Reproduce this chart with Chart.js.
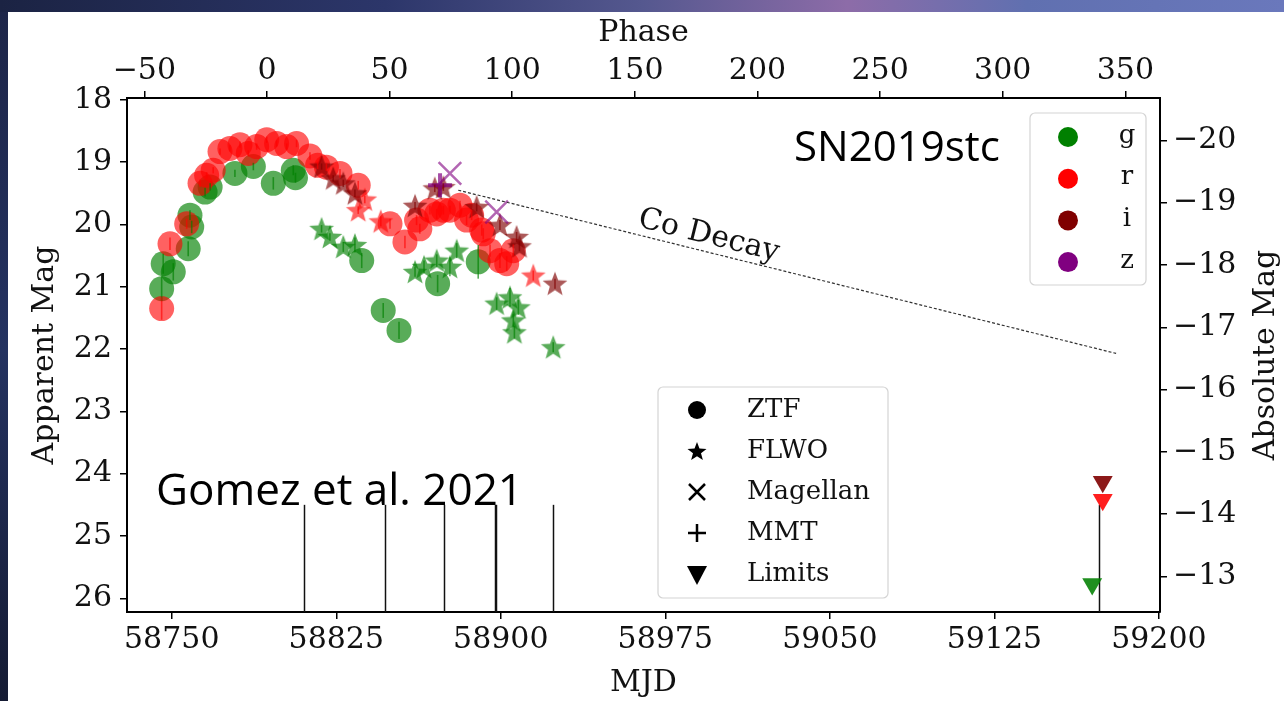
<!DOCTYPE html>
<html>
<head>
<meta charset="utf-8">
<title>SN2019stc light curve</title>
<script src="https://cdn.jsdelivr.net/npm/chart.js@4.4.1/dist/chart.umd.min.js"></script>
<style>
  html, body { margin: 0; padding: 0; background: #1c2442; }
  canvas { display: block; }
</style>
</head>
<body>
<canvas id="lc" width="1284" height="701" style="width:1284px;height:701px"></canvas>
<script>
// ---- axis ticks -------------------------------------------------------
const mjdTicks   = [58750, 58825, 58900, 58975, 59050, 59125, 59200];
const phaseTicks = [-50, 0, 50, 100, 150, 200, 250, 300, 350];
const appTicks   = [18, 19, 20, 21, 22, 23, 24, 25, 26];
const absTicks   = [-20, -19, -18, -17, -16, -15, -14, -13];

// ---- photometry (MJD, apparent mag, error) ----------------------------
const gZtfMjd = [58745.4, 58746.1, 58750.7, 58757.5, 58758.3, 58759.1, 58765.2, 58767.5, 58778.8,
                 58787.2, 58796.3, 58805.4, 58806.4, 58836.6, 58846.4, 58853.6, 58871.2, 58889.7];
const gZtfMag = [21.03, 20.63, 20.76, 20.39, 19.85, 20.04, 19.48, 19.40, 19.18,
                 19.07, 19.34, 19.13, 19.25, 20.58, 21.38, 21.70, 20.95, 20.60];
const gZtfErr = [0.20, 0.16, 0.14, 0.12, 0.08, 0.10, 0.07, 0.06, 0.06,
                 0.06, 0.10, 0.08, 0.08, 0.12, 0.12, 0.14, 0.14, 0.27];

const rZtfMjd = [58745.4, 58749.2, 58756.8, 58762.9, 58765.9, 58768.9, 58772.0, 58776.5, 58781.1,
                 58784.9, 58788.7, 58793.3, 58797.8, 58802.4, 58806.9, 58813.0, 58816.5, 58820.5,
                 58826.7, 58835.0, 58849.5, 58856.3, 58861.6, 58863.1, 58867.7, 58870.8, 58873.8,
                 58876.8, 58881.4, 58884.4, 58886.7, 58891.3, 58892.0, 58895.1, 58899.6, 58902.7,
                 58905.7];
const rZtfMag = [21.35, 20.31, 19.99, 19.34, 19.21, 19.13, 18.83, 18.78, 18.72,
                 18.86, 18.75, 18.64, 18.70, 18.75, 18.70, 18.90, 19.05, 19.08,
                 19.18, 19.37, 19.99, 20.28, 19.93, 20.07, 19.77, 19.83, 19.77,
                 19.77, 19.69, 19.93, 19.85, 20.09, 20.15, 20.42, 20.58, 20.63,
                 20.42];
const rZtfErr = [0.18, 0.10, 0.08, 0.06, 0.05, 0.05, 0.05, 0.05, 0.05,
                 0.05, 0.05, 0.05, 0.05, 0.05, 0.06, 0.06, 0.06, 0.06,
                 0.07, 0.07, 0.08, 0.10, 0.08, 0.08, 0.07, 0.08, 0.07,
                 0.07, 0.07, 0.08, 0.08, 0.09, 0.09, 0.10, 0.12, 0.12,
                 0.10];

const gFlwoMjd = [58818.3, 58822.1, 58828.2, 58833.5, 58860.9, 58865.0, 58870.8, 58876.8,
                  58879.9, 58898.1, 58904.2, 58908.0, 58905.7, 58906.2, 58923.9];
const gFlwoMag = [20.07, 20.20, 20.36, 20.33, 20.76, 20.68, 20.58, 20.68,
                  20.42, 21.27, 21.17, 21.33, 21.54, 21.73, 21.97];
const gFlwoErr = [0.06, 0.06, 0.08, 0.12, 0.08, 0.10, 0.10, 0.15,
                  0.12, 0.10, 0.15, 0.12, 0.10, 0.10, 0.08];

const rFlwoMjd = [58835.0, 58838.0, 58845.3, 58914.8];
const rFlwoMag = [19.77, 19.60, 19.95, 20.82];
const rFlwoErr = [0.06, 0.06, 0.08, 0.08];

const iFlwoMjd = [58818.3, 58823.6, 58828.2, 58833.5, 58860.9, 58869.9, 58873.8,
                  58889.0, 58899.6, 58907.2, 58908.5, 58924.7];
const iFlwoMag = [19.07, 19.26, 19.34, 19.50, 19.70, 19.42, 19.40,
                  19.72, 20.01, 20.20, 20.35, 20.95];
const iFlwoErr = [0.05, 0.05, 0.06, 0.06, 0.06, 0.06, 0.06,
                  0.07, 0.08, 0.08, 0.08, 0.08];

const zMagellanMjd = [58876.8, 58898.1];
const zMagellanMag = [19.18, 19.80];

const zMmtMjd = [58872.3];
const zMmtMag = [19.37];

const gLimitMjd = [59169.6];
const gLimitMag = [25.77];
const rLimitMjd = [59174.4];
const rLimitMag = [24.42];
const iLimitMjd = [59174.4];
const iLimitMag = [24.13];

// spectroscopy epochs, drawn as ticks rising from the bottom axis
const spectraMjd = [58810.2, 58847.1, 58874.2, 58897.3, 58898.0, 58924.0, 59172.5];
const spectraTopMag = 24.5;

// radioactive 56Co decay slope
const cobaltMjd = [58880.6, 59180.5];
const cobaltMag = [19.45, 22.07];

const filterNames    = ['g', 'r', 'i', 'z'];
const telescopeNames = ['ZTF', 'FLWO', 'Magellan', 'MMT', 'Limits'];

// ---- conversions ------------------------------------------------------
const PEAK_MJD   = 58793.4;
const ONE_PLUS_Z = 1.118;
const DIST_MOD   = 38.65;
const MJD_MIN = 58729.6, MJD_MAX = 59200.5;
const MAG_TOP = 17.97, MAG_BOTTOM = 26.22;
const toPhase = mjd => (mjd - PEAK_MJD) / ONE_PLUS_Z;

const SERIF = "'DejaVu Serif', serif";
const SANS  = "'Open Sans', 'Noto Sans', sans-serif";

const GREEN  = 'rgba(0,128,0,0.65)';
const RED    = 'rgba(255,0,0,0.62)';
const MAROON = 'rgba(128,0,0,0.65)';
const PURPLE = 'rgba(128,0,128,0.6)';

const minus = v => (v < 0 ? '\u2212' + Math.abs(v) : String(v));
const pts = (xs, ys) => xs.map((x, i) => ({ x, y: ys[i] }));

function traceStar(g, cx, cy, R) {
    const r = R * 0.42;
    g.beginPath();
    for (let k = 0; k < 10; k++) {
        const a = -Math.PI / 2 + k * Math.PI / 5;
        const d = k % 2 ? r : R;
        g.lineTo(cx + d * Math.cos(a), cy + d * Math.sin(a));
    }
    g.closePath();
}

function starImage(fill, R) {
    const size = Math.ceil(R * 2 + 2);
    const c = document.createElement('canvas');
    c.width = size; c.height = size;
    const g = c.getContext('2d');
    traceStar(g, size / 2, size / 2 + R * 0.08, R);
    g.fillStyle = fill;
    g.fill();
    return c;
}

function circles(xs, ys, errs, fill) {
    return { data: pts(xs, ys), errs, errColor: fill, pointStyle: 'circle',
             pointRadius: 12.5, backgroundColor: fill, borderWidth: 0 };
}
function stars(xs, ys, errs, fill) {
    return { data: pts(xs, ys), errs, errColor: fill, pointStyle: starImage(fill, 13),
             pointRadius: 13, backgroundColor: fill, borderWidth: 0 };
}
function limits(xs, ys, fill) {
    return { data: pts(xs, ys), pointStyle: 'triangle', pointRotation: 180,
             pointRadius: 11.5, backgroundColor: fill, borderWidth: 0 };
}

const layers = [
    circles(gZtfMjd, gZtfMag, gZtfErr, GREEN),
    stars(gFlwoMjd, gFlwoMag, gFlwoErr, GREEN),
    circles(rZtfMjd, rZtfMag, rZtfErr, RED),
    stars(rFlwoMjd, rFlwoMag, rFlwoErr, RED),
    stars(iFlwoMjd, iFlwoMag, iFlwoErr, MAROON),
    { data: pts(zMagellanMjd, zMagellanMag), pointStyle: 'crossRot', pointRadius: 16,
      borderColor: PURPLE, borderWidth: 2.5 },
    { data: pts(zMmtMjd, zMmtMag), pointStyle: 'cross', pointRadius: 12,
      borderColor: 'rgba(128,0,128,0.7)', borderWidth: 4 },
    limits(gLimitMjd, gLimitMag, 'rgba(0,128,0,0.88)'),
    limits(rLimitMjd, rLimitMag, 'rgba(255,0,0,0.88)'),
    limits(iLimitMjd, iLimitMag, 'rgba(128,0,0,0.9)')
];

const datasets = layers.map((d, i) => Object.assign({
    type: 'scatter', xAxisID: 'x', yAxisID: 'y', order: layers.length - i + 1
}, d));

datasets.push({
    type: 'line', xAxisID: 'x', yAxisID: 'y', order: 0,
    data: pts(cobaltMjd, cobaltMag),
    borderColor: '#333', borderWidth: 1.2, borderDash: [3, 2],
    pointRadius: 0, fill: false, tension: 0
});

// ---- plugins ----------------------------------------------------------
const backdrop = {
    id: 'backdrop',
    beforeDraw(chart) {
        const { ctx, width, height } = chart;
        ctx.save();
        const top = ctx.createLinearGradient(0, 0, width, 0);
        top.addColorStop(0.00, '#1b2343');
        top.addColorStop(0.30, '#2c366a');
        top.addColorStop(0.50, '#55588f');
        top.addColorStop(0.66, '#8d6ca8');
        top.addColorStop(0.80, '#6070b0');
        top.addColorStop(1.00, '#6a78bc');
        ctx.fillStyle = top;
        ctx.fillRect(0, 0, width, height);
        const side = ctx.createLinearGradient(0, 0, 0, height);
        side.addColorStop(0.0, '#1d2548');
        side.addColorStop(0.5, '#243260');
        side.addColorStop(1.0, '#151b33');
        ctx.fillStyle = side;
        ctx.fillRect(0, 12, 8, height - 12);
        ctx.fillStyle = '#ffffff';
        ctx.fillRect(8, 12, width - 8, height - 12);
        ctx.restore();
    }
};

function legendBox(ctx, x, y, w, h) {
    const r = 5;
    ctx.beginPath();
    ctx.moveTo(x + r, y);
    ctx.arcTo(x + w, y, x + w, y + h, r);
    ctx.arcTo(x + w, y + h, x, y + h, r);
    ctx.arcTo(x, y + h, x, y, r);
    ctx.arcTo(x, y, x + w, y, r);
    ctx.closePath();
    ctx.fillStyle = 'rgba(255,255,255,0.8)';
    ctx.fill();
    ctx.strokeStyle = '#d4d4d4';
    ctx.lineWidth = 1.2;
    ctx.stroke();
}

function legendMarker(ctx, kind, x, y) {
    ctx.fillStyle = '#000';
    ctx.strokeStyle = '#000';
    ctx.lineWidth = 2.5;
    ctx.beginPath();
    if (kind === 0) {
        ctx.arc(x, y, 9, 0, Math.PI * 2); ctx.fill();
    } else if (kind === 1) {
        traceStar(ctx, x, y + 1, 10); ctx.fill();
    } else if (kind === 2) {
        ctx.moveTo(x - 8, y - 8); ctx.lineTo(x + 8, y + 8);
        ctx.moveTo(x + 8, y - 8); ctx.lineTo(x - 8, y + 8); ctx.stroke();
    } else if (kind === 3) {
        ctx.moveTo(x - 9, y); ctx.lineTo(x + 9, y);
        ctx.moveTo(x, y - 9); ctx.lineTo(x, y + 9); ctx.stroke();
    } else {
        ctx.moveTo(x - 10, y - 8); ctx.lineTo(x + 10, y - 8); ctx.lineTo(x, y + 11);
        ctx.closePath(); ctx.fill();
    }
}

const overlay = {
    id: 'overlay',
    beforeDatasetsDraw(chart) {
        const { ctx, chartArea: a, scales: { x, y } } = chart;
        ctx.save();
        ctx.strokeStyle = '#111';
        ctx.lineWidth = 1.5;
        const yTop = y.getPixelForValue(spectraTopMag);
        spectraMjd.forEach(m => {
            const px = Math.round(x.getPixelForValue(m)) + 0.5;
            ctx.beginPath();
            ctx.moveTo(px, yTop);
            ctx.lineTo(px, a.bottom);
            ctx.stroke();
        });
        ctx.restore();
    },
    afterDatasetsDraw(chart) {
        const { ctx, scales: { x, y } } = chart;
        ctx.save();
        ctx.lineWidth = 1.6;
        chart.data.datasets.forEach(ds => {
            if (!ds.errs) return;
            ctx.strokeStyle = ds.errColor;
            ds.data.forEach((p, i) => {
                const px = x.getPixelForValue(p.x);
                ctx.beginPath();
                ctx.moveTo(px, y.getPixelForValue(p.y - ds.errs[i]));
                ctx.lineTo(px, y.getPixelForValue(p.y + ds.errs[i]));
                ctx.stroke();
            });
        });
        ctx.restore();
    },
    afterDraw(chart) {
        const { ctx, chartArea: a, scales: { x, y } } = chart;
        ctx.save();

        // decay label, laid along the dashed line
        const x0 = x.getPixelForValue(cobaltMjd[0]), y0 = y.getPixelForValue(cobaltMag[0]);
        const x1 = x.getPixelForValue(cobaltMjd[1]), y1 = y.getPixelForValue(cobaltMag[1]);
        const ang = Math.atan2(y1 - y0, x1 - x0);
        const t = 0.375;
        ctx.translate(x0 + (x1 - x0) * t, y0 + (y1 - y0) * t);
        ctx.rotate(ang);
        ctx.font = `30px ${SERIF}`;
        ctx.fillStyle = '#111';
        ctx.textAlign = 'center';
        ctx.textBaseline = 'alphabetic';
        ctx.fillText('Co Decay', 0, -8);
        ctx.setTransform(1, 0, 0, 1, 0, 0);

        // annotations
        ctx.fillStyle = '#000';
        ctx.textAlign = 'left';
        ctx.font = `42px ${SANS}`;
        ctx.fillText('SN2019stc', 794, 161);
        ctx.font = `44px ${SANS}`;
        ctx.fillText('Gomez et al. 2021', 156, 505);

        // filter legend
        const fColors = ['#008000', '#ff0000', '#800000', '#800080'];
        legendBox(ctx, 1030, 113, 116, 172);
        ctx.font = `26px ${SERIF}`;
        ctx.textBaseline = 'middle';
        filterNames.forEach((name, i) => {
            const ry = 137 + i * 41.7;
            ctx.beginPath();
            ctx.arc(1068, ry, 10, 0, Math.PI * 2);
            ctx.fillStyle = fColors[i];
            ctx.fill();
            ctx.fillStyle = '#111';
            ctx.textAlign = 'center';
            ctx.fillText(name, 1127, ry - 1);
        });

        // instrument legend
        legendBox(ctx, 658, 387, 230, 211);
        telescopeNames.forEach((name, i) => {
            const ry = 410 + i * 41;
            legendMarker(ctx, i, 697, ry);
            ctx.fillStyle = '#111';
            ctx.textAlign = 'left';
            ctx.fillText(name, 747, ry);
        });

        // right-hand axis title, reading upwards
        ctx.translate(1266, (a.top + a.bottom) / 2);
        ctx.rotate(-Math.PI / 2);
        ctx.font = `30px ${SERIF}`;
        ctx.textAlign = 'center';
        ctx.textBaseline = 'middle';
        ctx.fillStyle = '#111';
        ctx.fillText('Absolute Mag', 0, 0);
        ctx.restore();
    }
};

// ---- chart ------------------------------------------------------------
const tickFont  = { family: SERIF, size: 30 };
const titleFont = { family: SERIF, size: 30 };

function axisGrid() {
    return { display: true, drawOnChartArea: false, drawTicks: true,
             tickLength: 7, lineWidth: 1.5, tickColor: '#000' };
}
const axisBorder = { display: true, color: '#000', width: 2 };
const setTicks = list => scale => { scale.ticks = list.map(v => ({ value: v })); };

new Chart(document.getElementById('lc'), {
    type: 'scatter',
    data: { datasets },
    options: {
        responsive: false,
        animation: false,
        devicePixelRatio: 1,
        layout: { padding: 0 },
        plugins: { legend: { display: false }, tooltip: { enabled: false } },
        scales: {
            x: {
                type: 'linear', position: 'bottom', bounds: 'data',
                min: MJD_MIN, max: MJD_MAX,
                afterBuildTicks: setTicks(mjdTicks),
                afterFit: s => { s.height = 89; },
                ticks: { font: tickFont, color: '#111', padding: 3, maxRotation: 0,
                         autoSkip: false, callback: v => String(v) },
                grid: axisGrid(), border: axisBorder,
                title: { display: true, text: 'MJD', font: titleFont, color: '#111',
                         padding: { top: 0, bottom: 0 } }
            },
            x2: {
                type: 'linear', position: 'top', bounds: 'data',
                min: toPhase(MJD_MIN), max: toPhase(MJD_MAX),
                afterBuildTicks: setTicks(phaseTicks),
                afterFit: s => { s.height = 98; },
                ticks: { font: tickFont, color: '#111', padding: 2, maxRotation: 0,
                         autoSkip: false, callback: minus },
                grid: axisGrid(), border: axisBorder,
                title: { display: true, text: 'Phase', font: titleFont, color: '#111',
                         padding: { top: 15, bottom: 0 } }
            },
            y: {
                type: 'linear', position: 'left', reverse: true, bounds: 'data',
                min: MAG_TOP, max: MAG_BOTTOM,
                afterBuildTicks: setTicks(appTicks),
                afterFit: s => { s.width = 127; },
                ticks: { font: tickFont, color: '#111', padding: 8, autoSkip: false,
                         callback: v => String(v) },
                grid: axisGrid(), border: axisBorder,
                title: { display: true, text: 'Apparent Mag', font: titleFont, color: '#111',
                         padding: { top: 27, bottom: 0 } }
            },
            y2: {
                type: 'linear', position: 'right', reverse: true, bounds: 'data',
                min: MAG_TOP - DIST_MOD, max: MAG_BOTTOM - DIST_MOD,
                afterBuildTicks: setTicks(absTicks),
                afterFit: s => { s.width = 124; },
                ticks: { font: tickFont, color: '#111', padding: 6, autoSkip: false,
                         callback: minus },
                grid: axisGrid(), border: axisBorder
            }
        }
    },
    plugins: [backdrop, overlay]
});
</script>
</body>
</html>
